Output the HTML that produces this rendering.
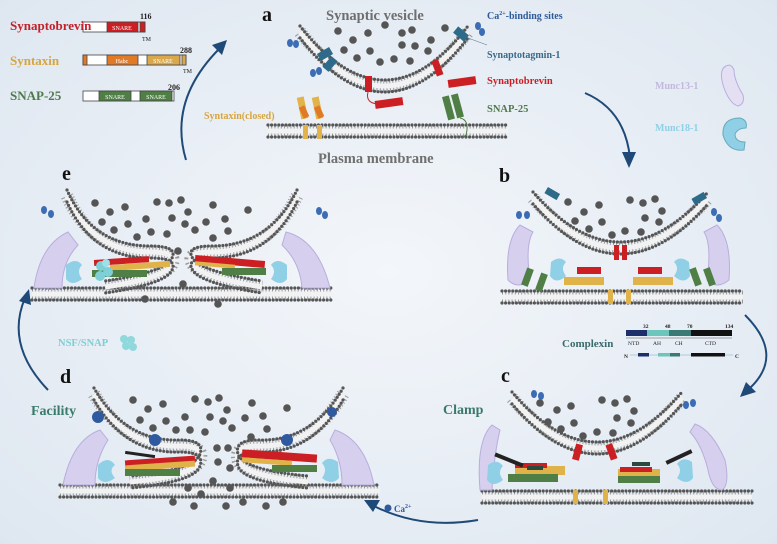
<!DOCTYPE html>
<html><head><meta charset="utf-8"><style>
html,body{margin:0;padding:0;}
body{width:777px;height:544px;overflow:hidden;background:#edf2f8;}
svg{display:block;font-family:"Liberation Serif",serif;font-weight:bold;}
.m0{fill:none;stroke:#9a9a9a;stroke-width:13;stroke-dasharray:1 2.2;}
.m1{fill:none;stroke:#f2f2f2;stroke-width:5;}
.m2{fill:none;stroke:#555;stroke-width:3.2;stroke-dasharray:0 3.6;stroke-linecap:round;}
.v{fill:#555;}
.arr{fill:none;stroke:#1f4a78;stroke-width:2;}
</style></head><body>
<svg width="777" height="544" viewBox="0 0 777 544" xmlns="http://www.w3.org/2000/svg">
<defs>
<radialGradient id="bg" cx="0.5" cy="0.5" r="0.75">
<stop offset="0" stop-color="#f3f6fa"/><stop offset="1" stop-color="#dde6f0"/></radialGradient>
<path id="va" d="M300 32 Q385 140 468 32"/>
<path id="pa" d="M268 131 L508 131"/>
<path id="vb" d="M533 198 Q620 298 708 198"/>
<path id="pb" d="M502 297 L743 297"/>
<path id="vc" d="M512 398 Q597 498 682 398"/>
<path id="pc" d="M482 497 L752 497"/>
<path id="pd" d="M60 491 L380 491"/>
<path id="dl" d="M94 394 Q125 448 180 446 Q205 446 200 460 Q195 476 130 482"/>
<path id="dr" d="M343 394 Q312 448 258 446 Q234 446 238 460 Q243 476 308 482"/>
<path id="pe" d="M32 294 L332 294"/>
<path id="el" d="M67 196 Q92 252 150 252 Q178 252 172 264 Q166 278 105 287"/>
<path id="er" d="M297 196 Q270 252 212 252 Q186 252 192 263 Q198 277 262 287"/>
</defs>
<rect width="777" height="544" fill="url(#bg)"/>

<g>
<use href="#va" class="m0"/><use href="#va" class="m1"/><use href="#va" class="m2" transform="translate(0,-6)"/><use href="#va" class="m2" transform="translate(0,6)"/>
<use href="#pa" class="m0"/><use href="#pa" class="m1"/><use href="#pa" class="m2" transform="translate(0,-6)"/><use href="#pa" class="m2" transform="translate(0,6)"/>
<use href="#vb" class="m0"/><use href="#vb" class="m1"/><use href="#vb" class="m2" transform="translate(0,-6)"/><use href="#vb" class="m2" transform="translate(0,6)"/>
<use href="#pb" class="m0"/><use href="#pb" class="m1"/><use href="#pb" class="m2" transform="translate(0,-6)"/><use href="#pb" class="m2" transform="translate(0,6)"/>
<use href="#vc" class="m0"/><use href="#vc" class="m1"/><use href="#vc" class="m2" transform="translate(0,-6)"/><use href="#vc" class="m2" transform="translate(0,6)"/>
<use href="#pc" class="m0"/><use href="#pc" class="m1"/><use href="#pc" class="m2" transform="translate(0,-6)"/><use href="#pc" class="m2" transform="translate(0,6)"/>
<use href="#pd" class="m0"/><use href="#pd" class="m1"/><use href="#pd" class="m2" transform="translate(0,-6)"/><use href="#pd" class="m2" transform="translate(0,6)"/>
<use href="#dl" class="m0"/><use href="#dl" class="m1"/><use href="#dl" class="m2" transform="translate(0,-6)"/><use href="#dl" class="m2" transform="translate(0,6)"/>
<use href="#dr" class="m0"/><use href="#dr" class="m1"/><use href="#dr" class="m2" transform="translate(0,-6)"/><use href="#dr" class="m2" transform="translate(0,6)"/>
<use href="#pe" class="m0"/><use href="#pe" class="m1"/><use href="#pe" class="m2" transform="translate(0,-6)"/><use href="#pe" class="m2" transform="translate(0,6)"/>
<use href="#el" class="m0"/><use href="#el" class="m1"/><use href="#el" class="m2" transform="translate(0,-6)"/><use href="#el" class="m2" transform="translate(0,6)"/>
<use href="#er" class="m0"/><use href="#er" class="m1"/><use href="#er" class="m2" transform="translate(0,-6)"/><use href="#er" class="m2" transform="translate(0,6)"/>
</g>

<g class="v">
<circle cx="338" cy="31" r="3.8"/><circle cx="368" cy="33" r="3.8"/><circle cx="385" cy="25" r="3.8"/><circle cx="402" cy="33" r="3.8"/><circle cx="412" cy="30" r="3.8"/><circle cx="445" cy="28" r="3.8"/>
<circle cx="353" cy="40" r="3.8"/><circle cx="402" cy="45" r="3.8"/><circle cx="415" cy="46" r="3.8"/><circle cx="431" cy="40" r="3.8"/><circle cx="344" cy="50" r="3.8"/><circle cx="370" cy="51" r="3.8"/><circle cx="428" cy="51" r="3.8"/><circle cx="357" cy="58" r="3.8"/><circle cx="380" cy="62" r="3.8"/><circle cx="394" cy="59" r="3.8"/><circle cx="410" cy="61" r="3.8"/>
<circle cx="568" cy="202" r="3.8"/><circle cx="599" cy="205" r="3.8"/><circle cx="630" cy="200" r="3.8"/><circle cx="643" cy="203" r="3.8"/><circle cx="655" cy="199" r="3.8"/><circle cx="584" cy="212" r="3.8"/><circle cx="662" cy="211" r="3.8"/><circle cx="575" cy="221" r="3.8"/><circle cx="602" cy="222" r="3.8"/><circle cx="645" cy="218" r="3.8"/><circle cx="589" cy="229" r="3.8"/><circle cx="659" cy="222" r="3.8"/><circle cx="612" cy="235" r="3.8"/><circle cx="625" cy="231" r="3.8"/><circle cx="641" cy="232" r="3.8"/>
<circle cx="540" cy="403" r="3.8"/><circle cx="557" cy="410" r="3.8"/><circle cx="571" cy="406" r="3.8"/><circle cx="602" cy="400" r="3.8"/><circle cx="615" cy="403" r="3.8"/><circle cx="627" cy="399" r="3.8"/><circle cx="634" cy="411" r="3.8"/><circle cx="548" cy="422" r="3.8"/><circle cx="561" cy="429" r="3.8"/><circle cx="574" cy="423" r="3.8"/><circle cx="583" cy="436" r="3.8"/><circle cx="597" cy="432" r="3.8"/><circle cx="613" cy="433" r="3.8"/><circle cx="617" cy="418" r="3.8"/><circle cx="631" cy="423" r="3.8"/>
<circle cx="133" cy="400" r="3.8"/><circle cx="148" cy="409" r="3.8"/><circle cx="163" cy="404" r="3.8"/><circle cx="195" cy="399" r="3.8"/><circle cx="208" cy="402" r="3.8"/><circle cx="219" cy="398" r="3.8"/><circle cx="252" cy="403" r="3.8"/><circle cx="287" cy="408" r="3.8"/><circle cx="140" cy="420" r="3.8"/><circle cx="166" cy="421" r="3.8"/><circle cx="185" cy="417" r="3.8"/><circle cx="210" cy="417" r="3.8"/><circle cx="227" cy="410" r="3.8"/><circle cx="245" cy="418" r="3.8"/><circle cx="263" cy="416" r="3.8"/><circle cx="153" cy="428" r="3.8"/><circle cx="176" cy="430" r="3.8"/><circle cx="190" cy="430" r="3.8"/><circle cx="205" cy="432" r="3.8"/><circle cx="223" cy="421" r="3.8"/><circle cx="232" cy="428" r="3.8"/><circle cx="267" cy="429" r="3.8"/><circle cx="251" cy="437" r="3.8"/><circle cx="217" cy="448" r="3.8"/><circle cx="228" cy="448" r="3.8"/><circle cx="218" cy="462" r="3.8"/><circle cx="230" cy="468" r="3.8"/><circle cx="213" cy="481" r="3.8"/><circle cx="188" cy="488" r="3.8"/><circle cx="201" cy="494" r="3.8"/><circle cx="230" cy="488" r="3.8"/><circle cx="173" cy="502" r="3.8"/><circle cx="194" cy="506" r="3.8"/><circle cx="226" cy="506" r="3.8"/><circle cx="243" cy="502" r="3.8"/><circle cx="266" cy="506" r="3.8"/><circle cx="283" cy="502" r="3.8"/>
<circle cx="95" cy="203" r="3.8"/><circle cx="110" cy="212" r="3.8"/><circle cx="125" cy="207" r="3.8"/><circle cx="157" cy="202" r="3.8"/><circle cx="169" cy="203" r="3.8"/><circle cx="181" cy="200" r="3.8"/><circle cx="213" cy="205" r="3.8"/><circle cx="248" cy="210" r="3.8"/><circle cx="102" cy="222" r="3.8"/><circle cx="128" cy="224" r="3.8"/><circle cx="146" cy="219" r="3.8"/><circle cx="172" cy="218" r="3.8"/><circle cx="188" cy="212" r="3.8"/><circle cx="206" cy="222" r="3.8"/><circle cx="225" cy="219" r="3.8"/><circle cx="114" cy="230" r="3.8"/><circle cx="151" cy="232" r="3.8"/><circle cx="167" cy="234" r="3.8"/><circle cx="185" cy="224" r="3.8"/><circle cx="195" cy="230" r="3.8"/><circle cx="228" cy="231" r="3.8"/><circle cx="137" cy="237" r="3.8"/><circle cx="213" cy="238" r="3.8"/><circle cx="178" cy="251" r="3.8"/><circle cx="183" cy="284" r="3.8"/><circle cx="145" cy="299" r="3.8"/><circle cx="218" cy="304" r="3.8"/>
</g>

<!-- panel a -->
<g>
<rect x="318" y="50" width="14" height="8" fill="#2e6b8a" transform="rotate(-30 325 54)"/>
<rect x="323" y="60" width="14" height="8" fill="#2e6b8a" transform="rotate(-50 330 64)"/>
<rect x="454" y="30" width="14" height="8" fill="#2e6b8a" transform="rotate(40 461 34)"/>
<rect x="365" y="76" width="7" height="16" fill="#cc1f24"/>
<rect x="434" y="60" width="7" height="16" fill="#cc1f24" transform="rotate(-20 437 68)"/>
<path d="M368 92 Q365 104 380 104" fill="none" stroke="#cc1f24"/>
<rect x="375" y="99" width="28" height="8" fill="#cc1f24" transform="rotate(-8 389 103)"/>
<rect x="448" y="78" width="28" height="8" fill="#cc1f24" transform="rotate(-8 462 82)"/>
<rect x="299" y="97" width="7" height="22" fill="#e2b34a" transform="rotate(-12 302 108)"/>
<rect x="314" y="97" width="7" height="22" fill="#e2b34a" transform="rotate(-12 317 108)"/>
<rect x="301" y="106" width="6" height="12" fill="#e07a26" transform="rotate(-25 304 112)"/>
<rect x="316" y="106" width="6" height="12" fill="#e07a26" transform="rotate(-25 319 112)"/>
<rect x="303" y="125" width="5" height="14" fill="#e2b34a"/><rect x="317" y="125" width="5" height="14" fill="#e2b34a"/>
<rect x="445" y="96" width="7" height="24" fill="#4f7f45" transform="rotate(-15 448 108)"/>
<rect x="454" y="94" width="7" height="24" fill="#4f7f45" transform="rotate(-15 457 106)"/>
<path d="M460 118 Q470 120 466 135 L462 138" fill="none" stroke="#4f7f45"/>
<ellipse cx="290" cy="43" rx="3" ry="4" fill="#3c6db4"/><ellipse cx="296" cy="44" rx="3" ry="4" fill="#3c6db4"/>
<ellipse cx="313" cy="73" rx="3" ry="4" fill="#3c6db4"/><ellipse cx="319" cy="71" rx="3" ry="4" fill="#3c6db4"/>
<ellipse cx="478" cy="26" rx="3" ry="4" fill="#3c6db4"/><ellipse cx="482" cy="32" rx="3" ry="4" fill="#3c6db4"/>
<path d="M468 38 L487 45" stroke="#5a7a9a" stroke-width="0.6"/>
</g>

<!-- panel b -->
<g>
<path d="M520 225 Q505 240 508 280 Q518 290 530 280 Q525 245 533 232 Z" fill="#d6cfee" stroke="#b8aedd"/>
<path d="M717 225 Q732 240 729 280 Q717 290 707 280 Q712 245 704 232 Z" fill="#d6cfee" stroke="#b8aedd"/>
<rect x="577" y="267" width="24" height="7" fill="#cc1f24"/><rect x="638" y="267" width="24" height="7" fill="#cc1f24"/>
<rect x="614" y="245" width="5" height="15" fill="#cc1f24"/><rect x="622" y="245" width="5" height="15" fill="#cc1f24"/>
<path d="M551 262 Q560 255 566 262 Q560 268 566 276 Q556 285 550 276 Z" fill="#8fd0e6"/>
<path d="M689 262 Q680 255 674 262 Q680 268 674 276 Q684 285 690 276 Z" fill="#8fd0e6"/>
<rect x="564" y="277" width="40" height="8" fill="#dfb24a"/><rect x="633" y="277" width="40" height="8" fill="#dfb24a"/>
<rect x="608" y="290" width="5" height="14" fill="#dfb24a"/><rect x="626" y="290" width="5" height="14" fill="#dfb24a"/>
<rect x="524" y="268" width="7" height="18" fill="#4f7f45" transform="rotate(20 527 277)"/><rect x="538" y="273" width="7" height="18" fill="#4f7f45" transform="rotate(20 541 282)"/>
<rect x="692" y="268" width="7" height="18" fill="#4f7f45" transform="rotate(-20 695 277)"/><rect x="706" y="268" width="7" height="18" fill="#4f7f45" transform="rotate(-20 709 277)"/>
<rect x="545" y="190" width="14" height="7" fill="#2e6b8a" transform="rotate(30 552 194)"/><rect x="692" y="195" width="14" height="7" fill="#2e6b8a" transform="rotate(-30 699 198)"/>
<ellipse cx="519" cy="215" rx="3" ry="4" fill="#3c6db4"/><ellipse cx="527" cy="215" rx="3" ry="4" fill="#3c6db4"/>
<ellipse cx="714" cy="212" rx="3" ry="4" fill="#3c6db4"/><ellipse cx="719" cy="218" rx="3" ry="4" fill="#3c6db4"/>
</g>

<!-- panel c -->
<g>
<path d="M492 425 Q476 440 480 490 L492 490 Q494 455 500 430 Z" fill="#d6cfee" stroke="#b8aedd"/>
<path d="M695 424 Q712 430 725 460 Q730 485 722 490 Q712 490 708 470 Q702 445 690 432 Z" fill="#d6cfee" stroke="#b8aedd"/>
<path d="M488 465 Q497 458 503 466 Q497 472 503 480 Q493 488 487 480 Z" fill="#8fd0e6"/>
<path d="M692 462 Q683 456 677 464 Q683 470 677 478 Q687 486 693 478 Z" fill="#8fd0e6"/>
<rect x="515" y="466" width="50" height="9" fill="#dfb24a"/><rect x="508" y="474" width="50" height="8" fill="#4f7f45"/>
<rect x="515" y="463" width="32" height="5" fill="#cc1f24"/><rect x="527" y="466" width="16" height="4" fill="#2a4a40"/>
<rect x="618" y="469" width="42" height="8" fill="#dfb24a"/><rect x="618" y="476" width="42" height="7" fill="#4f7f45"/>
<rect x="620" y="467" width="32" height="5" fill="#cc1f24"/>
<rect x="494" y="458" width="30" height="4" fill="#222" transform="rotate(22 509 460)"/>
<rect x="665" y="455" width="28" height="4" fill="#222" transform="rotate(-25 679 457)"/>
<rect x="632" y="462" width="18" height="4" fill="#2a4a40"/>
<rect x="573" y="490" width="5" height="14" fill="#dfb24a"/><rect x="603" y="490" width="5" height="14" fill="#dfb24a"/>
<rect x="574" y="444" width="7" height="16" fill="#cc1f24" transform="rotate(15 577 452)"/><rect x="608" y="444" width="7" height="16" fill="#cc1f24" transform="rotate(-20 611 452)"/>
<ellipse cx="534" cy="394" rx="3" ry="4" fill="#3c6db4"/><ellipse cx="541" cy="396" rx="3" ry="4" fill="#3c6db4"/>
<ellipse cx="686" cy="405" rx="3" ry="4" fill="#3c6db4"/><ellipse cx="693" cy="403" rx="3" ry="4" fill="#3c6db4"/>
</g>

<!-- panel d -->
<g>
<path d="M100 430 Q72 440 63 485 L95 485 Q95 460 108 440 Z" fill="#d6cfee" stroke="#b8aedd"/>
<path d="M335 430 Q365 440 374 485 L342 485 Q342 460 330 440 Z" fill="#d6cfee" stroke="#b8aedd"/>
<path d="M98 465 Q108 455 115 465 Q108 470 115 478 Q104 486 98 478 Z" fill="#8fd0e6"/>
<path d="M338 462 Q328 455 322 463 Q328 470 322 478 Q332 486 339 478 Z" fill="#8fd0e6"/>
<rect x="125" y="458" width="70" height="7" fill="#cc1f24" transform="rotate(-4 160 461)"/>
<rect x="125" y="463" width="70" height="6" fill="#dfb24a" transform="rotate(-4 160 466)"/>
<rect x="125" y="469" width="55" height="7" fill="#4f7f45"/>
<rect x="125" y="453" width="30" height="3" fill="#222" transform="rotate(8 140 455)"/>
<rect x="242" y="452" width="75" height="8" fill="#cc1f24" transform="rotate(4 280 456)"/>
<rect x="242" y="459" width="50" height="5" fill="#dfb24a" transform="rotate(4 267 461)"/>
<rect x="272" y="465" width="45" height="7" fill="#4f7f45"/>
<circle cx="155" cy="440" r="6" fill="#2f5aa0"/><circle cx="98" cy="417" r="6" fill="#2f5aa0"/><circle cx="287" cy="440" r="6" fill="#2f5aa0"/><circle cx="332" cy="412" r="5" fill="#2f5aa0"/>
</g>

<!-- panel e -->
<g>
<path d="M68 232 Q40 245 34 288 L62 288 Q62 262 78 245 Z" fill="#d6cfee" stroke="#b8aedd"/>
<path d="M286 232 Q318 240 330 288 L302 288 Q300 262 282 245 Z" fill="#d6cfee" stroke="#b8aedd"/>
<path d="M66 265 Q76 257 82 265 Q76 271 82 279 Q72 287 66 279 Z" fill="#8fd0e6"/>
<path d="M287 265 Q277 257 271 265 Q277 271 271 279 Q281 287 287 279 Z" fill="#8fd0e6"/>
<rect x="94" y="258" width="55" height="6" fill="#cc1f24" transform="rotate(-4 122 261)"/>
<rect x="110" y="263" width="60" height="6" fill="#dfb24a" transform="rotate(-4 140 266)"/>
<rect x="92" y="270" width="55" height="7" fill="#4f7f45"/>
<circle cx="101" cy="266" r="5" fill="#7fd0d6"/><circle cx="108" cy="272" r="5" fill="#7fd0d6"/><circle cx="100" cy="276" r="5" fill="#7fd0d6"/><circle cx="106" cy="263" r="4" fill="#9fe0e6"/>
<rect x="195" y="258" width="70" height="7" fill="#cc1f24" transform="rotate(5 230 261)"/>
<rect x="195" y="263" width="40" height="4" fill="#dfb24a" transform="rotate(5 215 265)"/>
<rect x="222" y="268" width="44" height="7" fill="#4f7f45"/>
<ellipse cx="44" cy="210" rx="3" ry="4" fill="#3c6db4"/><ellipse cx="51" cy="214" rx="3" ry="4" fill="#3c6db4"/>
<ellipse cx="319" cy="211" rx="3" ry="4" fill="#3c6db4"/><ellipse cx="325" cy="215" rx="3" ry="4" fill="#3c6db4"/>
</g>

<!-- arrows -->
<path class="arr" d="M186 160 Q168 100 220 48"/><path d="M227 40 L212 45 L222 55 Z" fill="#1f4a78"/>
<path class="arr" d="M585 93 Q625 110 630 158"/><path d="M629 168 L622 152 L636 152 Z" fill="#1f4a78"/>
<path class="arr" d="M745 315 Q785 355 750 388"/><path d="M740 397 L746 382 L756 392 Z" fill="#1f4a78"/>
<path class="arr" d="M478 520 Q420 530 372 505"/><path d="M364 500 L380 500 L373 512 Z" fill="#1f4a78"/>
<path class="arr" d="M48 390 Q5 345 25 298"/><path d="M29 289 L31 305 L19 301 Z" fill="#1f4a78"/>

<!-- legend bars -->
<g stroke="#444" stroke-width="0.8">
<rect x="83" y="22" width="62" height="10" fill="#fff"/><rect x="107" y="22" width="31" height="10" fill="#cc1f24"/><rect x="140" y="22" width="5" height="10" fill="#cc1f24"/>
<rect x="83" y="55" width="103" height="10" fill="#fff"/><rect x="83" y="55" width="4" height="10" fill="#e07a26"/><rect x="107" y="55" width="31" height="10" fill="#e07a26"/><rect x="147" y="55" width="33" height="10" fill="#d9a84a"/><rect x="182" y="55" width="4" height="10" fill="#d9a84a"/>
<rect x="83" y="91" width="91" height="10" fill="#fff"/><rect x="99" y="91" width="32" height="10" fill="#4f7f45"/><rect x="140" y="91" width="32" height="10" fill="#4f7f45"/>
</g>
<g font-size="6" fill="#fff" font-weight="normal" text-anchor="middle">
<text x="122" y="30">SNARE</text><text x="122" y="63">Habc</text><text x="163" y="63">SNARE</text><text x="115" y="99">SNARE</text><text x="156" y="99">SNARE</text>
</g>
<g font-size="8" fill="#222">
<text x="140" y="19">116</text><text x="142" y="41" font-weight="normal" font-size="6">TM</text>
<text x="180" y="53">288</text><text x="183" y="73" font-weight="normal" font-size="6">TM</text>
<text x="168" y="90">206</text>
</g>
<text x="10" y="30" font-size="13" fill="#c4202a">Synaptobrevin</text>
<text x="10" y="65" font-size="13" fill="#d6a640">Syntaxin</text>
<text x="10" y="100" font-size="13" fill="#4e7a4c">SNAP-25</text>

<!-- labels -->
<text x="262" y="21" font-size="20" fill="#111">a</text>
<text x="326" y="20" font-size="14.5" fill="#6f6f6f">Synaptic vesicle</text>
<text x="318" y="163" font-size="14.5" fill="#6f6f6f">Plasma membrane</text>
<text x="487" y="19" font-size="10" fill="#2e5a9a">Ca<tspan font-size="6" dy="-4">2+</tspan><tspan dy="4">-binding sites</tspan></text>
<text x="487" y="58" font-size="10" fill="#3a6a8a">Synaptotagmin-1</text>
<text x="487" y="84" font-size="10.5" fill="#cc1f24">Synaptobrevin</text>
<text x="487" y="112" font-size="10.5" fill="#4e7a4c">SNAP-25</text>
<text x="204" y="119" font-size="10" fill="#d6a640">Syntaxin(closed)</text>
<text x="655" y="89" font-size="10" fill="#c2b9df">Munc13-1</text>
<text x="655" y="131" font-size="10" fill="#8fd0e6">Munc18-1</text>
<path d="M726 66 Q718 70 724 88 Q730 104 738 106 Q745 104 743 95 Q734 80 734 70 Q731 63 726 66 Z" fill="#e4dff3" stroke="#b8aedd"/>
<path d="M740 118 Q722 118 723 135 Q728 152 744 150 L745 142 Q735 142 735 134 Q738 128 746 128 Q748 120 740 118 Z" fill="#8fd0e6" stroke="#6ab"/>
<text x="499" y="182" font-size="20" fill="#111">b</text>
<text x="62" y="180" font-size="20" fill="#111">e</text>
<text x="501" y="382" font-size="20" fill="#111">c</text>
<text x="60" y="383" font-size="20" fill="#111">d</text>
<text x="443" y="414" font-size="14" fill="#3a7a6a">Clamp</text>
<text x="31" y="415" font-size="14" fill="#3a7a6a">Facility</text>
<text x="58" y="346" font-size="10.5" fill="#7dcfd2">NSF/SNAP</text>
<circle cx="124" cy="339" r="4" fill="#8fd8dc"/><circle cx="131" cy="340" r="4" fill="#8fd8dc"/><circle cx="126" cy="346" r="4" fill="#8fd8dc"/><circle cx="133" cy="347" r="4" fill="#8fd8dc"/>

<!-- complexin -->
<text x="562" y="347" font-size="11" fill="#3a6a6a">Complexin</text>
<rect x="626" y="330" width="21" height="6" fill="#1c2f6b"/><rect x="647" y="330" width="22" height="6" fill="#6cc6bb"/><rect x="669" y="330" width="22" height="6" fill="#3a7a74"/><rect x="691" y="330" width="41" height="6" fill="#111"/>
<line x1="626" y1="338" x2="732" y2="338" stroke="#555" stroke-width="0.6"/>
<g font-size="5.5" fill="#222"><text x="643" y="328">32</text><text x="665" y="328">48</text><text x="687" y="328">70</text><text x="725" y="328">134</text>
<text x="628" y="345" font-weight="normal">NTD</text><text x="653" y="345" font-weight="normal">AH</text><text x="675" y="345" font-weight="normal">CH</text><text x="705" y="345" font-weight="normal">CTD</text>
<text x="624" y="358">N</text><text x="735" y="358">C</text></g>
<line x1="630" y1="355" x2="733" y2="355" stroke="#7ab" stroke-width="0.6"/>
<rect x="638" y="353" width="11" height="3.5" fill="#1c2f6b"/><rect x="658" y="353" width="12" height="3.5" fill="#6cc6bb"/><rect x="670" y="353" width="10" height="3.5" fill="#3a7a74"/><rect x="691" y="353" width="34" height="3.5" fill="#111"/>

<circle cx="388" cy="508" r="3.5" fill="#2f5aa0"/>
<text x="394" y="512" font-size="9" fill="#2e5a9a">Ca<tspan font-size="6" dy="-4">2+</tspan></text>
</svg>
</body></html>
